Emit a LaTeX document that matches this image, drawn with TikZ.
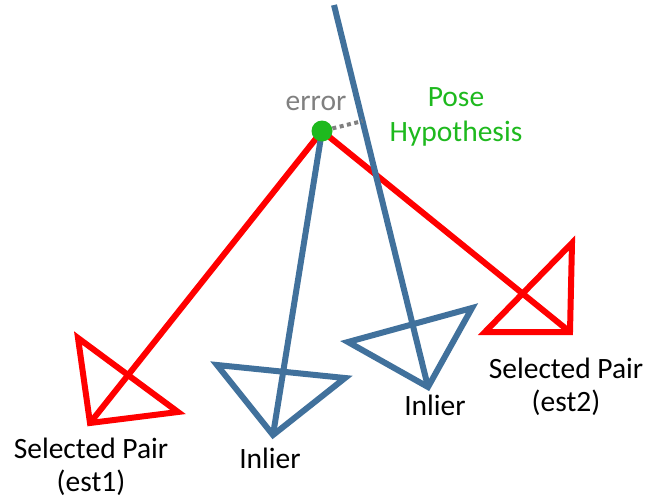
\documentclass[tikz,border=0pt]{standalone}
\usepackage{fontspec}
\setmainfont{Carlito}
\usetikzlibrary{calc}
\definecolor{posered}{RGB}{255,0,0}
\definecolor{poseblue}{RGB}{65,113,156}
\definecolor{posegreen}{RGB}{30,185,30}
\definecolor{errgray}{RGB}{128,128,128}

\begin{document}
\begin{tikzpicture}[x=1pt,y=-1pt,line join=miter]
  \tikzstyle{redline}=[draw=posered,line width=6pt]
  \tikzstyle{blueline}=[draw=poseblue,line width=6pt]
  \tikzstyle{errline}=[draw=errgray,line width=4pt,dash pattern=on 4pt off 3.5pt]
  \tikzstyle{dot}=[circle,fill=posegreen,inner sep=0pt,minimum size=21pt]
  \tikzstyle{lbl}=[font=\fontsize{29.5}{33}\selectfont,inner sep=0pt]
  \useasboundingbox (0,0) rectangle (646,501);

  % pose hypothesis and camera apexes
  \coordinate (hyp) at (322,131);
  \coordinate (top) at (334,5);
  \coordinate (c1) at (90,423);
  \coordinate (c2) at (273,435);
  \coordinate (c3) at (428,387);
  \coordinate (c4) at (570,332);

  % selected pair (red)
  \draw[redline] (78,338) -- (c1) -- (178,412) -- cycle;
  \draw[redline] (572,243) -- (c4) -- (485,332) -- cycle;
  \draw[redline] (hyp) -- (c1);
  \draw[redline] (hyp) -- (c4);

  % inliers (blue)
  \draw[blueline] (217,365) -- (c2) -- (345,378) -- cycle;
  \draw[blueline] (348,342) -- (c3) -- (472,308) -- cycle;
  \draw[blueline] (hyp) -- (c2);
  \draw[blueline] (top) -- (c3);

  \node[dot] (hypdot) at (hyp) {};
  \coordinate (foot) at ($(top)!(hyp)!(c3)$);
  \draw[errline] (hypdot) -- (foot);

  \node[lbl,text=errgray,anchor=base] (err) at (316,110) {error};
  \node[lbl,text=posegreen,align=center] (posehyp) at (456,117) {Pose\\[2pt]Hypothesis};
  \node[lbl,align=center] (est1) at (91,467) {Selected Pair\\(est1)};
  \node[lbl,align=center] (est2) at (566,387) {Selected Pair\\(est2)};
  \node[lbl,anchor=base] (inl1) at (270,468) {Inlier};
  \node[lbl,anchor=base] (inl2) at (435,415) {Inlier};
\end{tikzpicture}
\end{document}
